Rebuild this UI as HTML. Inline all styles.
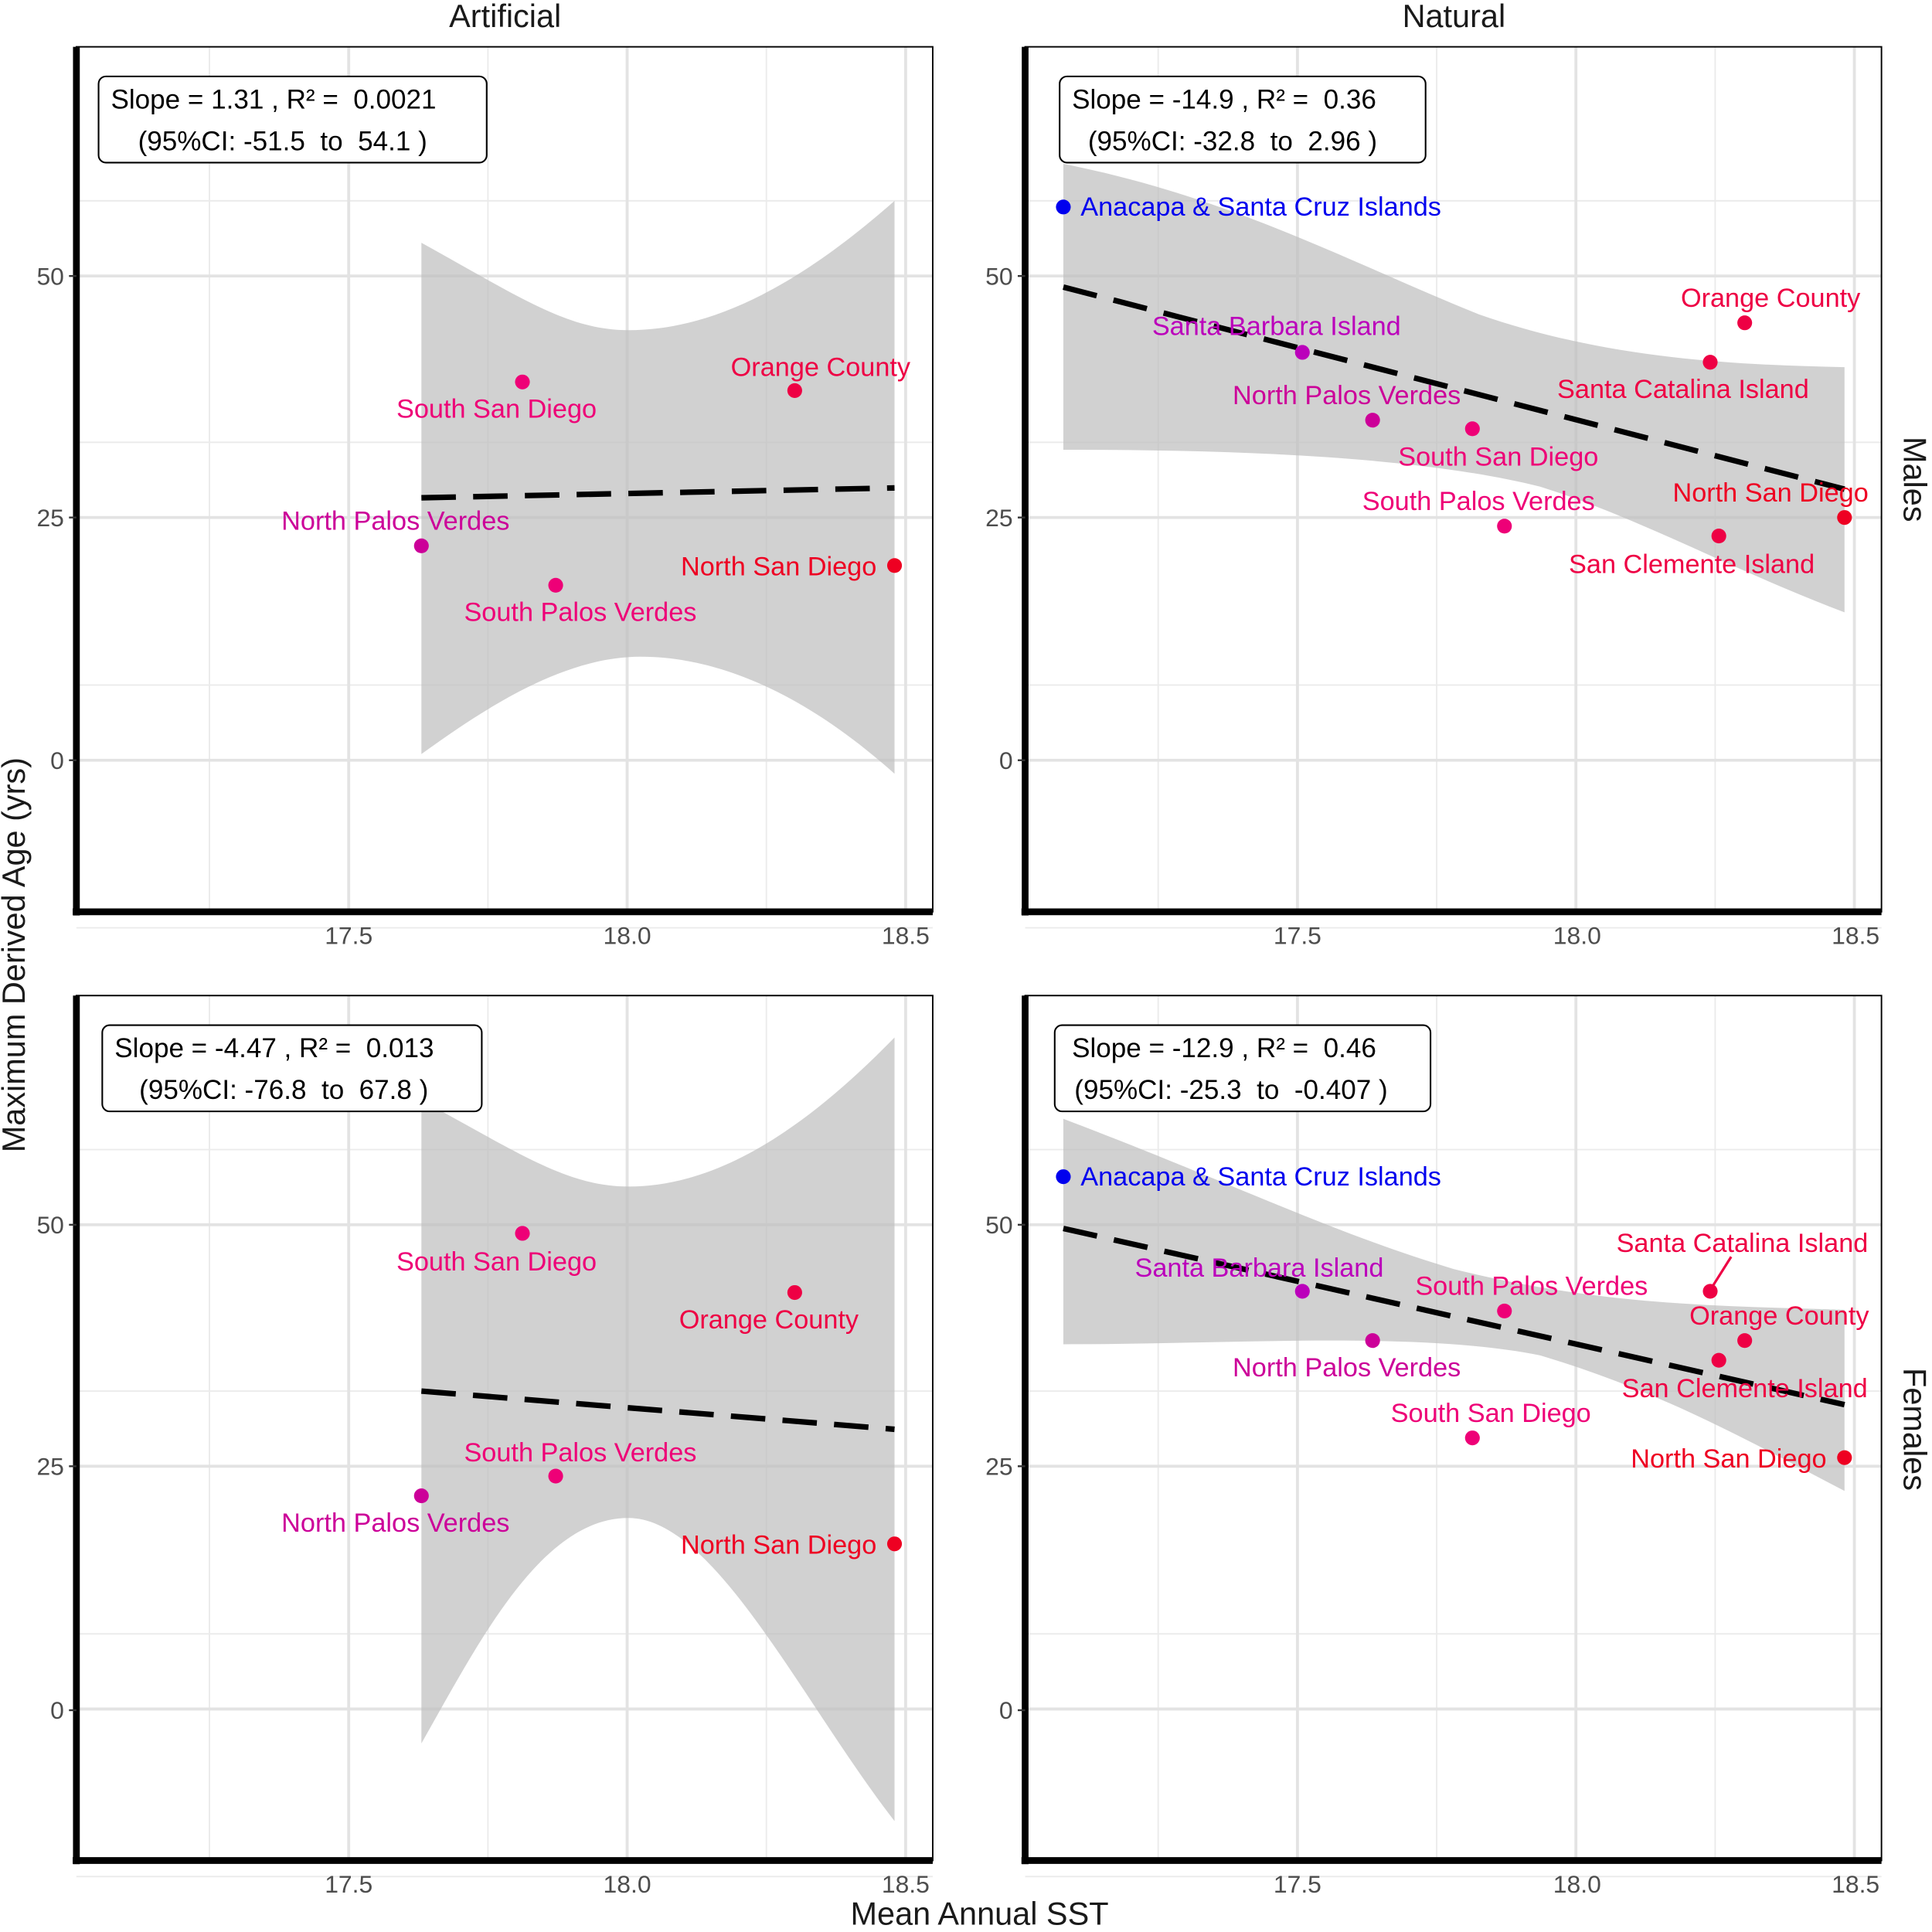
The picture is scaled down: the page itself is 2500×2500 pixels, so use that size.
<!DOCTYPE html>
<html><head><style>html,body{margin:0;padding:0;background:#fff}svg{display:block}text{white-space:pre}</style></head><body>
<svg width="2500" height="2500" viewBox="0 0 1568 1568" xmlns="http://www.w3.org/2000/svg" font-family="Liberation Sans, sans-serif" xml:space="preserve">
<defs>
<g id="grid">
<g stroke="#ebebeb" stroke-width="1.2">
<line x1="0" x2="695" y1="125" y2="125"/><line x1="0" x2="695" y1="321" y2="321"/><line x1="0" x2="695" y1="518" y2="518"/><line x1="0" x2="695" y1="715" y2="715"/>
<line x1="108" x2="108" y1="0" y2="702"/><line x1="334" x2="334" y1="0" y2="702"/><line x1="560" x2="560" y1="0" y2="702"/>
</g>
<g stroke="#e3e3e3" stroke-width="2.4">
<line x1="0" x2="695" y1="186" y2="186"/><line x1="0" x2="695" y1="382" y2="382"/><line x1="0" x2="695" y1="579" y2="579"/>
<line x1="221" x2="221" y1="0" y2="702"/><line x1="447" x2="447" y1="0" y2="702"/><line x1="673" x2="673" y1="0" y2="702"/>
</g>
</g>
</defs>
<g transform="translate(62,38)"><use href="#grid"/></g>
<g transform="translate(832,38)"><use href="#grid"/></g>
<g transform="translate(62,808)"><use href="#grid"/></g>
<g transform="translate(832,808)"><use href="#grid"/></g>

<path d="M342,197 C420,240 460,268 510,268 C580,268 650,230 726,163 L726,628 C650,560 580,533 520,533 C460,533 400,570 342,612 Z" fill="#bebebe" fill-opacity="0.7"/>
<path d="M863,133 C1000,160 1100,215 1200,255 C1300,290 1400,296 1497,298 L1497,497 C1400,460 1330,420 1250,395 C1150,370 1000,365 863,365 Z" fill="#bebebe" fill-opacity="0.7"/>
<path d="M342,893 C420,935 460,963 510,963 C580,963 650,920 726,842 L726,1478 C650,1380 580,1232 510,1232 C440,1232 390,1330 342,1415 Z" fill="#bebebe" fill-opacity="0.7"/>
<path d="M863,908 C1000,960 1080,1000 1180,1030 C1300,1060 1400,1060 1497,1063 L1497,1210 C1420,1170 1350,1130 1250,1100 C1150,1080 1000,1091 863,1091 Z" fill="#bebebe" fill-opacity="0.7"/>

<g stroke="#000" stroke-width="4.5" stroke-dasharray="28,14" fill="none">
<line x1="342" y1="404" x2="726" y2="396"/>
<line x1="863" y1="233" x2="1497" y2="397"/>
<line x1="342" y1="1129" x2="726" y2="1160"/>
<line x1="863" y1="997" x2="1497" y2="1140"/>
</g>

<g fill="none" stroke="#000" stroke-width="1.2">
<rect x="62" y="38" width="695" height="702"/><rect x="832" y="38" width="695" height="702"/>
<rect x="62" y="808" width="695" height="702"/><rect x="832" y="808" width="695" height="702"/>
</g>
<g stroke="#000" stroke-width="5.5">
<line x1="62" y1="38" x2="62" y2="743"/><line x1="59" y1="740" x2="757" y2="740"/>
<line x1="832" y1="38" x2="832" y2="743"/><line x1="829" y1="740" x2="1527" y2="740"/>
<line x1="62" y1="808" x2="62" y2="1513"/><line x1="59" y1="1510" x2="757" y2="1510"/>
<line x1="832" y1="808" x2="832" y2="1513"/><line x1="829" y1="1510" x2="1527" y2="1510"/>
</g>
<g stroke="#333" stroke-width="1.5">
<line x1="56" x2="62" y1="224" y2="224"/><line x1="56" x2="62" y1="420" y2="420"/><line x1="56" x2="62" y1="617" y2="617"/>
<line x1="826" x2="832" y1="224" y2="224"/><line x1="826" x2="832" y1="420" y2="420"/><line x1="826" x2="832" y1="617" y2="617"/>
<line x1="56" x2="62" y1="994" y2="994"/><line x1="56" x2="62" y1="1190" y2="1190"/><line x1="56" x2="62" y1="1388" y2="1388"/>
<line x1="826" x2="832" y1="994" y2="994"/><line x1="826" x2="832" y1="1190" y2="1190"/><line x1="826" x2="832" y1="1388" y2="1388"/>
</g>
<g font-size="20" fill="#4d4d4d">
<g text-anchor="end">
<text x="52" y="231">50</text><text x="52" y="427">25</text><text x="52" y="624">0</text>
<text x="822" y="231">50</text><text x="822" y="427">25</text><text x="822" y="624">0</text>
<text x="52" y="1001">50</text><text x="52" y="1197">25</text><text x="52" y="1395">0</text>
<text x="822" y="1001">50</text><text x="822" y="1197">25</text><text x="822" y="1395">0</text>
</g>
<g text-anchor="middle">
<text x="283" y="766">17.5</text><text x="509" y="766">18.0</text><text x="735" y="766">18.5</text>
<text x="1053" y="766">17.5</text><text x="1280" y="766">18.0</text><text x="1506" y="766">18.5</text>
<text x="283" y="1536">17.5</text><text x="509" y="1536">18.0</text><text x="735" y="1536">18.5</text>
<text x="1053" y="1536">17.5</text><text x="1280" y="1536">18.0</text><text x="1506" y="1536">18.5</text>
</g>
</g>

<g font-size="26" fill="#1a1a1a" text-anchor="middle">
<text x="410" y="22">Artificial</text><text x="1180" y="22">Natural</text>
<text x="795" y="1562">Mean Annual SST</text>
<text transform="translate(20,775) rotate(-90)">Maximum Derived Age (yrs)</text>
<text transform="translate(1545,389) rotate(90)">Males</text>
<text transform="translate(1545,1160) rotate(90)">Females</text>
</g>

<g fill="#fff" stroke="#000" stroke-width="1.3">
<rect x="80" y="62" width="315" height="70" rx="6"/>
<rect x="860" y="62" width="297" height="70" rx="6"/>
<rect x="83" y="832" width="308" height="70" rx="6"/>
<rect x="856" y="832" width="305" height="70" rx="6"/>
</g>
<g font-size="22" fill="#000">
<text x="90" y="88">Slope = 1.31 , R² =  0.0021</text><text x="112" y="122">(95%CI: -51.5  to  54.1 )</text>
<text x="870" y="88">Slope = -14.9 , R² =  0.36</text><text x="883" y="122">(95%CI: -32.8  to  2.96 )</text>
<text x="93" y="858">Slope = -4.47 , R² =  0.013</text><text x="113" y="892">(95%CI: -76.8  to  67.8 )</text>
<text x="870" y="858">Slope = -12.9 , R² =  0.46</text><text x="872" y="892">(95%CI: -25.3  to  -0.407 )</text>
</g>

<g font-size="21.5">
<circle cx="342" cy="443" r="6" fill="#cc0099"/><text x="321" y="430" text-anchor="middle" fill="#cc0099">North Palos Verdes</text>
<circle cx="424" cy="310" r="6" fill="#ee0077"/><text x="403" y="339" text-anchor="middle" fill="#ee0077">South San Diego</text>
<circle cx="451" cy="475" r="6" fill="#ee0077"/><text x="471" y="504" text-anchor="middle" fill="#ee0077">South Palos Verdes</text>
<circle cx="645" cy="317" r="6" fill="#ee0044"/><text x="666" y="305" text-anchor="middle" fill="#ee0044">Orange County</text>
<circle cx="726" cy="459" r="6" fill="#ee0022"/><text x="632" y="467" text-anchor="middle" fill="#ee0022">North San Diego</text>
<circle cx="863" cy="168" r="6" fill="#0000ee"/><text x="877" y="175" fill="#0000ee">Anacapa &amp; Santa Cruz Islands</text>
<circle cx="1057" cy="286" r="6" fill="#bb00bb"/><text x="1036" y="272" text-anchor="middle" fill="#bb00bb">Santa Barbara Island</text>
<circle cx="1114" cy="341" r="6" fill="#cc0099"/><text x="1093" y="328" text-anchor="middle" fill="#cc0099">North Palos Verdes</text>
<circle cx="1195" cy="348" r="6" fill="#ee0077"/><text x="1216" y="378" text-anchor="middle" fill="#ee0077">South San Diego</text>
<circle cx="1221" cy="427" r="6" fill="#ee0077"/><text x="1200" y="414" text-anchor="middle" fill="#ee0077">South Palos Verdes</text>
<circle cx="1388" cy="294" r="6" fill="#ee0044"/><text x="1366" y="323" text-anchor="middle" fill="#ee0044">Santa Catalina Island</text>
<circle cx="1416" cy="262" r="6" fill="#ee0044"/><text x="1437" y="249" text-anchor="middle" fill="#ee0044">Orange County</text>
<circle cx="1395" cy="435" r="6" fill="#ee0044"/><text x="1373" y="465" text-anchor="middle" fill="#ee0044">San Clemente Island</text>
<circle cx="1497" cy="420" r="6" fill="#ee0022"/><text x="1437" y="407" text-anchor="middle" fill="#ee0022">North San Diego</text>
<circle cx="342" cy="1214" r="6" fill="#cc0099"/><text x="321" y="1243" text-anchor="middle" fill="#cc0099">North Palos Verdes</text>
<circle cx="424" cy="1001" r="6" fill="#ee0077"/><text x="403" y="1031" text-anchor="middle" fill="#ee0077">South San Diego</text>
<circle cx="451" cy="1198" r="6" fill="#ee0077"/><text x="471" y="1186" text-anchor="middle" fill="#ee0077">South Palos Verdes</text>
<circle cx="645" cy="1049" r="6" fill="#ee0044"/><text x="624" y="1078" text-anchor="middle" fill="#ee0044">Orange County</text>
<circle cx="726" cy="1253" r="6" fill="#ee0022"/><text x="632" y="1261" text-anchor="middle" fill="#ee0022">North San Diego</text>
<circle cx="863" cy="955" r="6" fill="#0000ee"/><text x="877" y="962" fill="#0000ee">Anacapa &amp; Santa Cruz Islands</text>
<circle cx="1057" cy="1048" r="6" fill="#bb00bb"/><text x="1022" y="1036" text-anchor="middle" fill="#bb00bb">Santa Barbara Island</text>
<circle cx="1114" cy="1088" r="6" fill="#cc0099"/><text x="1093" y="1117" text-anchor="middle" fill="#cc0099">North Palos Verdes</text>
<circle cx="1195" cy="1167" r="6" fill="#ee0077"/><text x="1210" y="1154" text-anchor="middle" fill="#ee0077">South San Diego</text>
<circle cx="1221" cy="1064" r="6" fill="#ee0077"/><text x="1243" y="1051" text-anchor="middle" fill="#ee0077">South Palos Verdes</text>
<line x1="1388" y1="1047" x2="1405" y2="1020" stroke="#ee0044" stroke-width="2"/>
<circle cx="1388" cy="1048" r="6" fill="#ee0044"/><text x="1414" y="1016" text-anchor="middle" fill="#ee0044">Santa Catalina Island</text>
<circle cx="1416" cy="1088" r="6" fill="#ee0044"/><text x="1444" y="1075" text-anchor="middle" fill="#ee0044">Orange County</text>
<circle cx="1395" cy="1104" r="6" fill="#ee0044"/><text x="1416" y="1134" text-anchor="middle" fill="#ee0044">San Clemente Island</text>
<circle cx="1497" cy="1183" r="6" fill="#ee0022"/><text x="1403" y="1191" text-anchor="middle" fill="#ee0022">North San Diego</text>
</g>
</svg>
</body></html>
